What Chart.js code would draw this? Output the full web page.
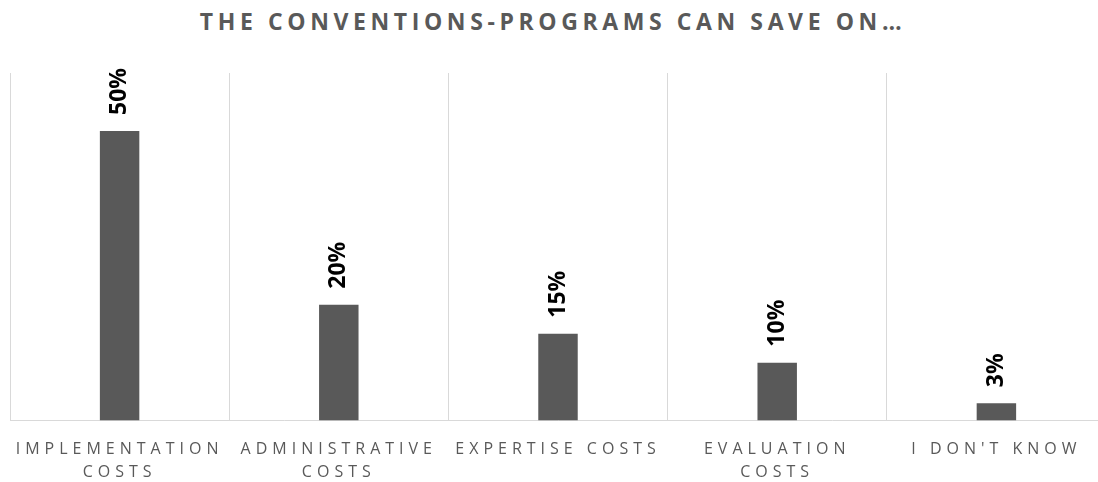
<!DOCTYPE html>
<html>
<head>
<meta charset="utf-8">
<script src="https://cdn.jsdelivr.net/npm/chart.js@4"></script>
<style>
  html, body { margin: 0; padding: 0; overflow: hidden; background: #fff; width: 1098px; height: 482px; }
  #title {
    position: absolute; left: 0; top: 5px; width: 1106px;
    text-align: center; font: bold 23px 'Open Sans', sans-serif;
    letter-spacing: 4.6px; color: #595959;
  }
  #wrap { position: absolute; left: 0; top: 0; width: 1116px; height: 501px; }
</style>
</head>
<body>
<div id="title">THE CONVENTIONS-PROGRAMS CAN SAVE ON…</div>
<div id="wrap"><canvas id="savingsChart"></canvas></div>
<script>
// Categories and values (percent of answers)
const categories = [
    ['IMPLEMENTATION', 'COSTS'],
    ['ADMINISTRATIVE', 'COSTS'],
    'EXPERTISE COSTS',
    ['EVALUATION', 'COSTS'],
    "I DON'T KNOW"
];
const shares = [50, 20, 15, 10, 3];

Chart.defaults.font.family = "'Open Sans', sans-serif";

// Wide letter spacing for the axis labels, like the original
const spacing = {
    id: 'spacing',
    beforeDraw(chart) {
        chart.ctx.letterSpacing = '5px';
    }
};

// Rotated bold value labels above the bars
const valueLabels = {
    id: 'valueLabels',
    afterDatasetsDraw(chart) {
        const ctx = chart.ctx;
        const meta = chart.getDatasetMeta(0);
        meta.data.forEach((bar, i) => {
            ctx.save();
            ctx.letterSpacing = '0px';
            ctx.translate(bar.x, bar.y - 16);
            ctx.rotate(-Math.PI / 2);
            ctx.font = "bold 23px 'Open Sans', sans-serif";
            ctx.fillStyle = '#000';
            ctx.textAlign = 'left';
            ctx.textBaseline = 'middle';
            ctx.fillText(shares[i] + '%', 0, 0);
            ctx.restore();
        });
    }
};

const chart = new Chart(document.getElementById('savingsChart'), {
    type: 'bar',
    data: {
        labels: categories,
        datasets: [{
            data: shares,
            backgroundColor: '#595959',
            barPercentage: 0.18,
            categoryPercentage: 1
        }]
    },
    options: {
        responsive: true,
        maintainAspectRatio: false,
        animation: false,
        layout: { padding: { left: 10, right: 10, top: 73, bottom: 0 } },
        plugins: {
            legend: { display: false },
            tooltip: { enabled: false }
        },
        scales: {
            x: {
                grid: { color: '#d9d9d9', drawTicks: false, offset: true },
                border: { color: '#d9d9d9' },
                ticks: {
                    color: '#595959',
                    font: { size: 16, lineHeight: 1.45 },
                    padding: 17,
                    maxRotation: 0,
                    autoSkip: false
                }
            },
            y: { display: false, min: 0, max: 60 }
        }
    },
    plugins: [spacing, valueLabels]
});
</script>
</body>
</html>
